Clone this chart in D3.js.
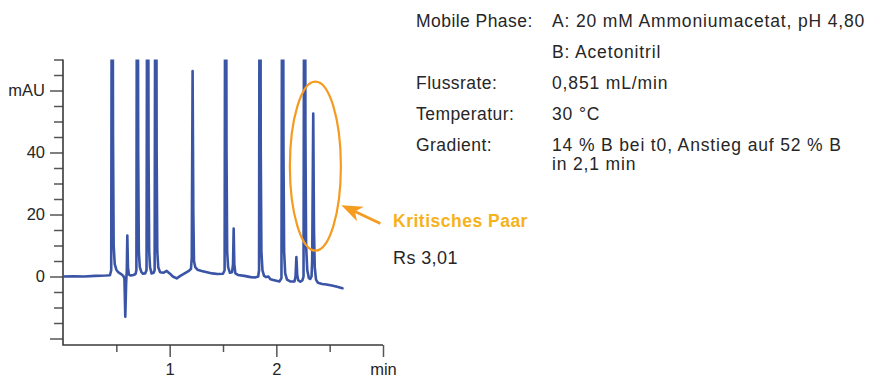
<!DOCTYPE html>
<html>
<head>
<meta charset="utf-8">
<script src="https://cdn.jsdelivr.net/npm/d3@7"></script>
<style>
  body { margin: 0; background: #fff; }
  svg { display: block; font-family: 'Liberation Sans', Arial, sans-serif; }
</style>
</head>
<body>
<svg id="chart" width="885" height="379"></svg>
<script>
// Chromatogram signal: retention time (min) vs absorbance (mAU)
const trace = [
  [0.00, 0.0], [0.10, 0.1], [0.20, 0.0], [0.30, 0.2], [0.40, 0.3], [0.44, 0.4],
  [0.452, 2], [0.461, 190], [0.469, 45], [0.475, 10], [0.485, 4], [0.50, 2.2], [0.52, 1.3], [0.545, 0.8], [0.565, 0.2], [0.576, -0.6],
  [0.584, -13], [0.592, -2],
  [0.598, 2], [0.603, 13.2], [0.609, 3], [0.618, 0.6], [0.635, 0.3], [0.66, 0.5], [0.68, 0.8],
  [0.688, 2], [0.697, 200], [0.705, 40], [0.711, 8], [0.720, 3], [0.735, 1.4], [0.750, 0.9], [0.770, 1.0], [0.783, 2],
  [0.794, 200], [0.802, 40], [0.808, 8], [0.816, 3], [0.830, 1.0], [0.850, 1.2], [0.859, 2],
  [0.870, 200], [0.878, 40], [0.884, 8], [0.893, 3], [0.91, 1.4], [0.94, 1.2], [0.972, 1.8], [1.00, 1.0], [1.03, 0.0], [1.066, -0.6],
  [1.10, 0.2], [1.14, 1.0], [1.18, 1.8], [1.200, 2.5],
  [1.207, 6], [1.215, 66.3], [1.222, 20], [1.228, 5], [1.24, 3], [1.26, 2.2], [1.30, 1.8], [1.35, 1.4], [1.40, 1.0], [1.45, 0.8], [1.50, 0.9],
  [1.515, 2], [1.525, 200], [1.533, 40], [1.539, 8], [1.548, 3], [1.565, 1.2], [1.585, 1.4],
  [1.594, 4], [1.600, 15.5], [1.606, 4], [1.616, 1], [1.64, 0.5], [1.70, 0.2], [1.76, -0.2], [1.80, -0.3], [1.83, 0],
  [1.838, 2], [1.846, 200], [1.854, 40], [1.860, 8], [1.870, 2], [1.885, 0.2], [1.905, -0.2], [1.925, 0], [1.945, -0.9], [1.98, -1.2], [2.03, -1.6], [2.048, -0.5],
  [2.059, 200], [2.067, 40], [2.073, 8], [2.083, 1], [2.10, -1.0], [2.13, -1.6], [2.17, -1.6], [2.180, 0],
  [2.188, 6.3], [2.196, 0.5], [2.205, -1.2], [2.225, -1.7], [2.245, -1.2], [2.255, 0],
  [2.265, 200], [2.273, 45], [2.279, 10], [2.290, 2], [2.305, -0.5], [2.318, -0.8], [2.330, 0],
  [2.336, 5], [2.346, 52.6], [2.353, 15], [2.360, 3], [2.372, -1.0], [2.39, -2.0], [2.43, -2.4], [2.47, -2.6], [2.52, -2.9], [2.57, -3.3], [2.62, -3.8]
];

// Axis ticks and labels
const yMajorTicks = [-20, 0, 20, 40, 60];
const yMajorLabels = ["", "0", "20", "40", "mAU"];
const yMinorTicks = [-15, -10, -5, 5, 10, 15, 25, 30, 35, 45, 50, 55, 65, 70];
const xMajorTicks = [1, 2, 3];
const xMajorLabels = ["1", "2", "min"];
const xMinorTicks = [0.5, 1.5, 2.5];

// Method conditions (label, value lines)
const conditionLabels = ["Mobile Phase:", "", "Flussrate:", "Temperatur:", "Gradient:"];
const conditionValues = [
  ["A: 20 mM Ammoniumacetat, pH 4,80"],
  ["B: Acetonitril"],
  ["0,851 mL/min"],
  ["30 °C"],
  ["14 % B bei t0, Anstieg auf 52 % B", "in 2,1 min"]
];

// Highlighted peak pair
const criticalPair = { time: 2.366, mAU: 35.6, title: "Kritisches Paar", note: "Rs 3,01" };

const svg = d3.select("#chart");
const plotLeft = 63, plotRight = 383, plotTop = 59.5, plotBottom = 345;
const x = d3.scaleLinear().domain([0, 3]).range([plotLeft, plotRight]);
const y = d3.scaleLinear().domain([-20, 70]).range([338.5, plotTop]);

const axisColor = "#3a3a3a";
const tickColor = "#555";
const textColor = "#262626";
const traceColor = "#3a55a6";
const orange = "#f59b20";
const gold = "#f6b21b";

// y axis ticks
const yMinor = svg.append("g").attr("transform", `translate(${plotLeft},0)`)
  .call(d3.axisLeft(y).tickValues(yMinorTicks).tickSize(9).tickFormat(""));
const yMajor = svg.append("g").attr("transform", `translate(${plotLeft},0)`)
  .call(d3.axisLeft(y).tickValues(yMajorTicks).tickSize(13).tickPadding(5)
    .tickFormat((d, i) => yMajorLabels[i]));

// x axis ticks
const xMinor = svg.append("g").attr("transform", `translate(0,${plotBottom})`)
  .call(d3.axisBottom(x).tickValues(xMinorTicks).tickSize(7).tickFormat(""));
const xMajor = svg.append("g").attr("transform", `translate(0,${plotBottom})`)
  .call(d3.axisBottom(x).tickValues(xMajorTicks).tickSize(12).tickPadding(6)
    .tickFormat((d, i) => xMajorLabels[i]));

[yMinor, yMajor, xMinor, xMajor].forEach(g => {
  g.select(".domain").remove();
  g.selectAll(".tick line").attr("stroke", tickColor).attr("stroke-width", 1.5);
  g.selectAll(".tick text").attr("fill", textColor).attr("font-size", 16.5)
    .attr("font-family", "'Liberation Sans', Arial, sans-serif");
});

// axis lines
svg.append("path")
  .attr("d", `M${plotLeft},${plotTop}V${plotBottom}H${plotRight}`)
  .attr("fill", "none").attr("stroke", axisColor).attr("stroke-width", 1.6);

// chromatogram trace
svg.append("clipPath").attr("id", "plot-clip")
  .append("rect").attr("x", plotLeft).attr("y", plotTop)
  .attr("width", 400 - plotLeft).attr("height", plotBottom - plotTop);

svg.append("path")
  .datum(trace)
  .attr("clip-path", "url(#plot-clip)")
  .attr("fill", "none")
  .attr("stroke", traceColor)
  .attr("stroke-width", 2.6)
  .attr("stroke-linejoin", "round")
  .attr("stroke-linecap", "round")
  .attr("d", d3.line().x(d => x(d[0])).y(d => y(d[1])));

// ellipse around the critical pair
const cx = x(criticalPair.time), cy = y(criticalPair.mAU);
const rx = 25.5, ry = 84.5;
svg.append("ellipse")
  .attr("cx", cx).attr("cy", cy).attr("rx", rx).attr("ry", ry)
  .attr("fill", "none").attr("stroke", orange).attr("stroke-width", 2.2);

// arrow pointing at the ellipse
const tip = [cx + rx + 0.5, cy + 39];
const tail = [tip[0] + 39, tip[1] + 18.3];
const len = Math.hypot(tail[0] - tip[0], tail[1] - tip[1]);
const ux = (tail[0] - tip[0]) / len, uy = (tail[1] - tip[1]) / len;
const nx = -uy, ny = ux;
const headLen = 21, headHalf = 8, notch = 15;
svg.append("line")
  .attr("x1", tip[0] + ux * notch).attr("y1", tip[1] + uy * notch)
  .attr("x2", tail[0]).attr("y2", tail[1])
  .attr("stroke", orange).attr("stroke-width", 2.8);
svg.append("path")
  .attr("d", `M${tip[0]},${tip[1]}` +
    `L${tip[0] + ux * headLen + nx * headHalf},${tip[1] + uy * headLen + ny * headHalf}` +
    `L${tip[0] + ux * notch},${tip[1] + uy * notch}` +
    `L${tip[0] + ux * headLen - nx * headHalf},${tip[1] + uy * headLen - ny * headHalf}Z`)
  .attr("fill", orange);

svg.append("text")
  .attr("x", 393).attr("y", 226.5)
  .attr("fill", gold).attr("font-size", 17.5).attr("font-weight", "bold")
  .attr("letter-spacing", 0.5)
  .text(criticalPair.title);
svg.append("text")
  .attr("x", 393).attr("y", 264)
  .attr("fill", textColor).attr("font-size", 18).attr("letter-spacing", 0.4)
  .text(criticalPair.note);

// method conditions block
const info = svg.append("g").attr("fill", textColor).attr("font-size", 17.5);
const rowStep = 30.9, wrapStep = 19.6, firstBaseline = 27;
conditionLabels.forEach((label, i) => {
  const yb = firstBaseline + i * rowStep;
  if (label) info.append("text").attr("x", 416).attr("y", yb)
    .attr("letter-spacing", 0.45).text(label);
  conditionValues[i].forEach((line, j) => {
    info.append("text").attr("x", 552).attr("y", yb + j * wrapStep)
      .attr("letter-spacing", 0.85).text(line);
  });
});
</script>
</body>
</html>
